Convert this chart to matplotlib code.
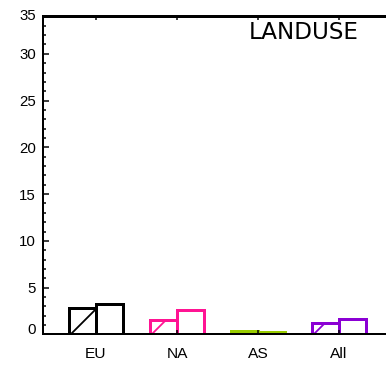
import matplotlib
matplotlib.use("Agg")
import matplotlib.pyplot as plt
import numpy as np
from matplotlib.ticker import MultipleLocator

# values
regions = ["EU", "NA", "AS", "All"]
hatched = [2.84, 1.50, 0.35, 1.24]
plain = [3.20, 2.56, 0.28, 1.67]
colors = ["black", "#ff1493", "#99cc00", "#8b00d4"]
ytick_vals = [0, 5, 10, 15, 20, 25, 30]
title = "LANDUSE"

DPI = 243
PX = 72.0 / DPI  # one pixel in points

plt.rcParams['font.family'] = ['Liberation Sans', 'DejaVu Sans']
plt.rcParams['hatch.linewidth'] = 1.8 * PX

fig = plt.figure(figsize=(386 / DPI, 365 / DPI), dpi=DPI)
ax = fig.add_axes([43 / 386, 30.6 / 365, 349 / 386, 318 / 365])

x = np.arange(1, len(regions) + 1)
w = 1 / 3.0
for i in range(len(regions)):
    ax.bar(x[i] - w / 2, hatched[i], w, facecolor="none", edgecolor=colors[i],
           hatch="/", linewidth=3 * PX)
    ax.bar(x[i] + w / 2, plain[i], w, facecolor="none", edgecolor=colors[i],
           linewidth=3 * PX)

ax.set_xlim(1 - 53 / 81, 4 + 53 / 81)
ax.set_ylim(0, 34)

ax.set_xticks(x)
ax.set_xticklabels(regions, fontsize=15.5 * PX)
ax.set_yticks(ytick_vals)
ax.set_yticklabels([str(v) for v in ytick_vals], fontsize=15 * PX)
ax.yaxis.set_minor_locator(MultipleLocator(1))
ax.tick_params(axis="x", direction="in", length=4 * PX, width=1.5 * PX,
               top=True, bottom=True, pad=13 * PX)
ax.tick_params(axis="y", which="major", direction="in", length=6 * PX,
               width=1.5 * PX, left=True, right=True, pad=7 * PX)
ax.tick_params(axis="y", which="minor", direction="in", length=3 * PX,
               width=1.5 * PX, left=True, right=True)
# IDL-style: bottom label sits above the axis, top label "35" at the frame
ax.get_yticklabels()[0].set_verticalalignment("baseline")
ax.text(-7 / 349, 1.0, "35", transform=ax.transAxes, ha="right", va="center",
        fontsize=15 * PX)

for side in ["left", "bottom"]:
    ax.spines[side].set_linewidth(2 * PX)
ax.spines["top"].set_linewidth(3 * PX)
ax.spines["right"].set_linewidth(2 * PX)

ax.text(0.905, 0.948, title, transform=ax.transAxes, ha="right", va="center",
        fontsize=23 * PX, family="DejaVu Sans")

fig.savefig("out.png", dpi=DPI)
